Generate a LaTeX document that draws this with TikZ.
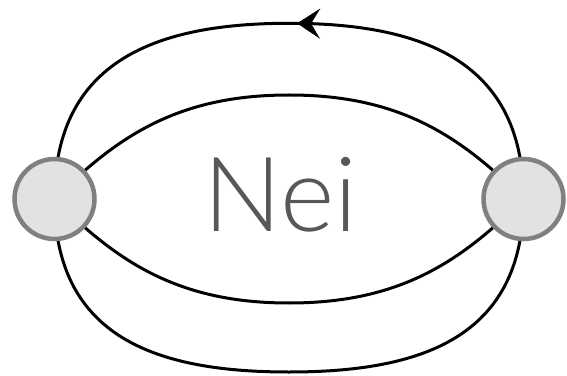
\documentclass[tikz,border=0pt]{standalone}
\usepackage{fontspec}
\newfontfamily\neifont{Lato Light}
\usetikzlibrary{arrows.meta,decorations.markings,backgrounds}
\definecolor{nodefill}{RGB}{226,226,226}
\definecolor{nodeline}{RGB}{128,128,128}
\definecolor{textgray}{RGB}{88,88,88}
\begin{document}
\begin{tikzpicture}[x=1pt,y=1pt,
  vertex/.style={circle,draw=nodeline,fill=nodefill,line width=4.5pt,minimum size=80pt,inner sep=0pt},
  edge/.style={draw=black,line width=3pt},
  flow/.style={edge,postaction={decorate},decoration={markings,
     mark=at position 0.488 with {\arrow{Stealth[length=23pt,width=30pt,inset=9pt]}}}}]
\useasboundingbox (0,0) rectangle (567,375);
\node[vertex] (a) at (54.5,176) {};
\node[vertex] (b) at (523.5,176) {};
\coordinate (otop) at (289,351.7);
\coordinate (itop) at (289,280);
\coordinate (ibot) at (289,72);
\coordinate (obot) at (289,3);
\node[anchor=base,text=textgray,inner sep=0pt,font=\neifont\fontsize{104}{104}\selectfont] (lbl) at (280.5,143) {Nei};
\begin{pgfonlayer}{background}
\draw[flow] (b.center) .. controls +(0,140) and +(130,0) .. (otop)
                       .. controls +(-130,0) and +(0,140) .. (a.center);
\draw[edge] (a.center) .. controls +(45:90) and +(-110,0) .. (itop)
                       .. controls +(110,0) and +(135:90) .. (b.center);
\draw[edge] (a.center) .. controls +(-45:90) and +(-110,0) .. (ibot)
                       .. controls +(110,0) and +(-135:90) .. (b.center);
\draw[edge] (a.center) .. controls +(0,-140) and +(-130,0) .. (obot)
                       .. controls +(130,0) and +(0,-140) .. (b.center);
\end{pgfonlayer}
\end{tikzpicture}
\end{document}
